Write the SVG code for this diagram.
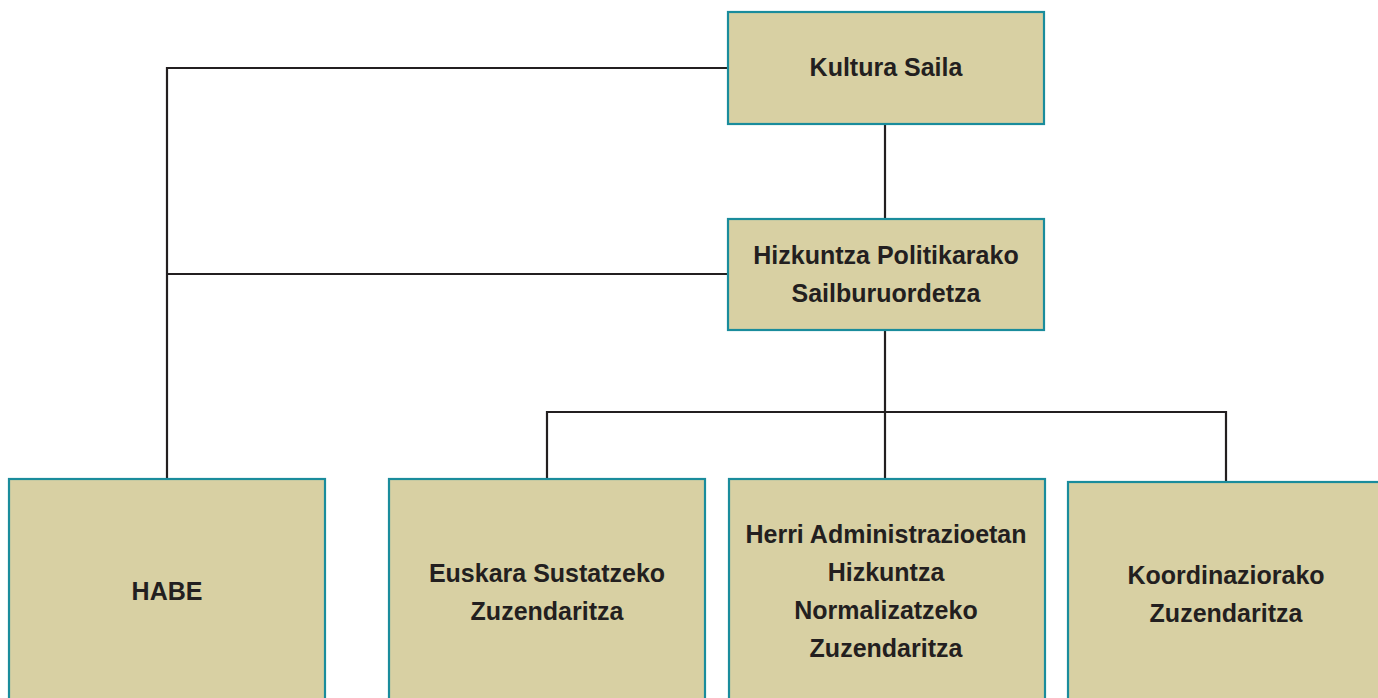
<svg xmlns="http://www.w3.org/2000/svg" width="1378" height="698" viewBox="0 0 1378 698">
<style>
.box{fill:#d8d0a3;stroke:#1a8c9c;stroke-width:2.2}
.lbl{font-family:"Liberation Sans",Arial,sans-serif;font-weight:bold;font-size:25px;fill:#231f20;text-anchor:middle}
.con{fill:none;stroke:#231f20;stroke-width:2.2}
</style>
<rect width="1378" height="698" fill="#ffffff"/>
<g id="connectors">
<polyline class="con" points="728,68 167,68 167,479"/>
<line class="con" x1="167" y1="274" x2="728" y2="274"/>
<line class="con" x1="885" y1="124" x2="885" y2="219"/>
<line class="con" x1="885" y1="330" x2="885" y2="479"/>
<polyline class="con" points="547,479 547,412 1226,412 1226,482"/>
</g>
<g id="kultura">
<rect class="box" x="728" y="12" width="316" height="112"/>
<text class="lbl" x="886" y="76">Kultura Saila</text>
</g>
<g id="sailburuordetza">
<rect class="box" x="728" y="219" width="316" height="111"/>
<text class="lbl" x="886" y="264">Hizkuntza Politikarako</text>
<text class="lbl" x="886" y="302">Sailburuordetza</text>
</g>
<g id="habe">
<rect class="box" x="9" y="479" width="316" height="230"/>
<text class="lbl" x="167" y="600">HABE</text>
</g>
<g id="euskara">
<rect class="box" x="389" y="479" width="316" height="230"/>
<text class="lbl" x="547" y="582">Euskara Sustatzeko</text>
<text class="lbl" x="547" y="620">Zuzendaritza</text>
</g>
<g id="herri">
<rect class="box" x="729" y="479" width="316" height="230"/>
<text class="lbl" x="886" y="543">Herri Administrazioetan</text>
<text class="lbl" x="886" y="581">Hizkuntza</text>
<text class="lbl" x="886" y="619">Normalizatzeko</text>
<text class="lbl" x="886" y="657">Zuzendaritza</text>
</g>
<g id="koordinazio">
<rect class="box" x="1068" y="482" width="316" height="230"/>
<text class="lbl" x="1226" y="584">Koordinaziorako</text>
<text class="lbl" x="1226" y="622">Zuzendaritza</text>
</g>
</svg>
